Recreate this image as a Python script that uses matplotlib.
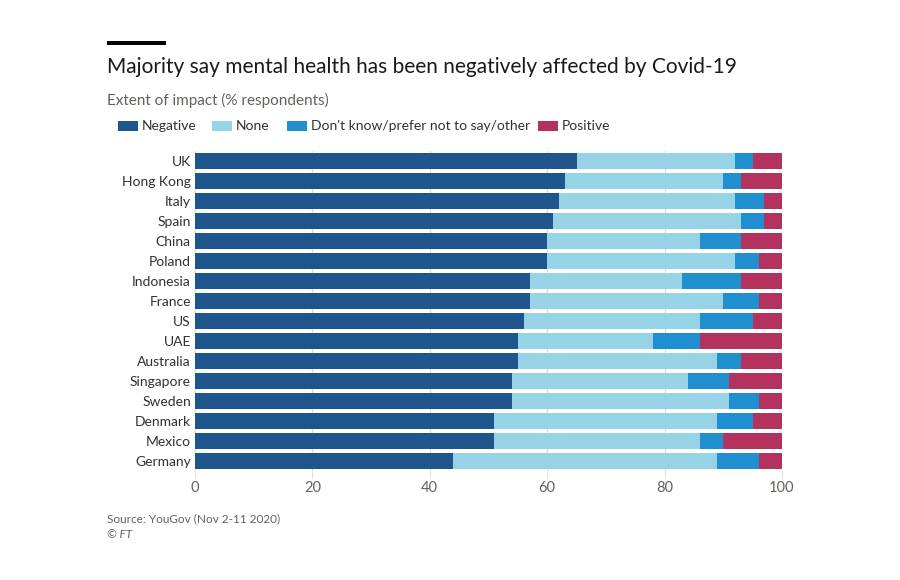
import matplotlib
matplotlib.use("Agg")
import matplotlib.pyplot as plt
from matplotlib.patches import Rectangle
import numpy as np

plt.rcParams['font.family'] = ['Lato', 'DejaVu Sans']

countries = ["UK", "Hong Kong", "Italy", "Spain", "China", "Poland", "Indonesia", "France",
             "US", "UAE", "Australia", "Singapore", "Sweden", "Denmark", "Mexico", "Germany"]
negative = [65, 63, 62, 61, 60, 60, 57, 57, 56, 55, 55, 54, 54, 51, 51, 44]
none = [27, 27, 30, 32, 26, 32, 26, 33, 30, 23, 34, 30, 37, 38, 35, 45]
dontknow = [3, 3, 5, 4, 7, 4, 10, 6, 9, 8, 4, 7, 5, 6, 4, 7]
positive = [5, 7, 3, 3, 7, 4, 7, 4, 5, 14, 7, 9, 4, 5, 10, 4]

series_names = ["Negative", "None", "Don't know/prefer not to say/other", "Positive"]
colors = ["#1e558c", "#96d3e6", "#1f8fcf", "#b3325e"]
xticks = [0, 20, 40, 60, 80, 100]

W, H = 900, 580
fig = plt.figure(figsize=(9, 5.8), dpi=100)
fig.patch.set_facecolor("white")

ax = fig.add_axes([195 / W, 1 - 471 / H, (782 - 195) / W, 320 / H])
y = np.arange(len(countries))
left = np.zeros(len(countries))
for vals, col in zip([negative, none, dontknow, positive], colors):
    ax.barh(y, vals, left=left, height=0.8, color=col, zorder=3)
    left += np.array(vals)

ax.set_ylim(len(countries) - 0.5, -0.5)
ax.set_xlim(0, 100)
ax.set_yticks(y)
ax.set_yticklabels(countries)
ax.set_xticks(xticks)
ax.set_xticklabels([str(t) for t in xticks])
ax.grid(axis="x", color="#e0dcd8", linewidth=1, zorder=0)
for s in ax.spines.values():
    s.set_visible(False)
ax.tick_params(axis="y", length=0, pad=3, labelsize=10, labelcolor="#33302e")
ax.tick_params(axis="x", length=5, color="#e0dcd8", pad=2, labelsize=10.5, labelcolor="#66605c")
ax.set_facecolor("none")

# top black rule
fig.patches.append(Rectangle((107 / W, 1 - 45 / H), 59 / W, 4 / H, transform=fig.transFigure,
                             facecolor="black", edgecolor="none"))
fig.text(107 / W, 1 - 67 / H, "Majority say mental health has been negatively affected by Covid-19",
         fontsize=15, color="#1a1a1a", va="center", ha="left")
fig.text(107 / W, 1 - 100 / H, "Extent of impact (% respondents)",
         fontsize=11, color="#66605c", va="center", ha="left")

# legend
leg_x = [118, 212, 287, 538]
for name, col, lx in zip(series_names, colors, leg_x):
    fig.patches.append(Rectangle((lx / W, 1 - 131 / H), 20 / W, 10 / H, transform=fig.transFigure,
                                 facecolor=col, edgecolor="none"))
    fig.text((lx + 24) / W, 1 - 126 / H, name, fontsize=10, color="#33302e", va="center", ha="left")

fig.text(107 / W, 1 - 519 / H, "Source: YouGov (Nov 2-11 2020)", fontsize=8.5, color="#66605c",
         va="center", ha="left")
fig.text(107 / W, 1 - 535 / H, "© FT", fontsize=8.5, color="#66605c", va="center", ha="left",
         style="italic")

fig.savefig("out.png", dpi=100, facecolor="white")
